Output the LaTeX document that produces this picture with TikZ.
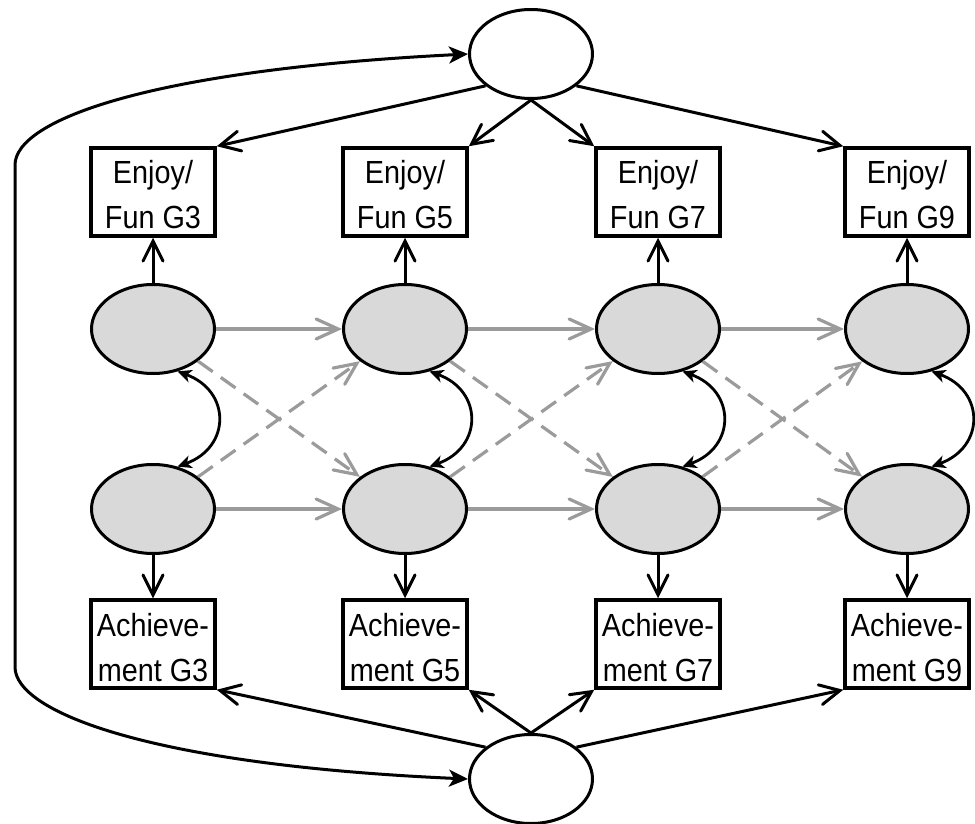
\documentclass[tikz,border=0pt]{standalone}
\usepackage{fontspec}
\newfontfamily\lab[FakeStretch=0.9]{Liberation Sans}
\usetikzlibrary{arrows.meta,shapes.geometric}
\definecolor{latfill}{RGB}{217,217,217}
\definecolor{pathgray}{RGB}{155,155,155}
\begin{document}
\begin{tikzpicture}[x=1pt,y=-1pt,
  obs/.style={draw, line width=3.5pt, minimum width=124pt, minimum height=88pt,
    inner sep=0pt, align=center, font=\lab\fontsize{32}{45}\selectfont,
    text height=74pt, text depth=0pt},
  lat/.style={ellipse, draw, fill=latfill, line width=3pt, minimum width=123pt,
    minimum height=89pt, inner sep=0pt},
  fac/.style={ellipse, draw, fill=white, line width=3pt, minimum width=123pt,
    minimum height=89pt, inner sep=0pt},
  blk/.style={line width=3pt, -{Straight Barb[length=20pt,width=20pt,line cap=round]}},
  gry/.style={draw=pathgray, line width=3.2pt, -{Straight Barb[length=22pt,width=20pt,line cap=round]}},
  gryd/.style={gry, dash pattern=on 18pt off 10pt},
  cov/.style={line width=2.8pt, {Stealth[length=14pt,width=13pt,inset=4pt]}-{Stealth[length=14pt,width=13pt,inset=4pt]}},
  bigcov/.style={line width=3pt, {Stealth[length=19pt,width=17pt,inset=5pt]}-{Stealth[length=19pt,width=17pt,inset=5pt]}}
]
\useasboundingbox (0,0) rectangle (975,824);

% factors
\node[fac] (top) at (531,54) {};
\node[fac] (bot) at (531,779) {};

% columns
\foreach \g/\x in {3/153,5/405,7/658,9/907}{
  \node[obs] (e\g) at (\x,192) {Enjoy/\\Fun G\g};
  \node[lat] (u\g) at (\x,329) {};
  \node[lat] (l\g) at (\x,509) {};
  \node[obs] (a\g) at (\x,644) {Achieve-\\ment G\g};
  \draw[blk] (u\g) -- (e\g);
  \draw[blk] (l\g) -- (a\g);
  \draw[cov] (u\g.-60) to[out=-20,in=20,distance=57pt] (l\g.60);
}

% autoregressive and cross-lagged paths
\foreach \p/\n in {3/5,5/7,7/9}{
  \draw[gry] (u\p) -- (u\n);
  \draw[gry] (l\p) -- (l\n);
  \draw[gryd] (u\p) -- (l\n);
  \draw[gryd] (l\p) -- (u\n);
}

% factor loadings
\draw[blk] (top.215) -- (e3.north east);
\draw[blk] (top.south) -- (e5.north east);
\draw[blk] (top.south) -- (e7.north west);
\draw[blk] (top.-35) -- (e9.north west);
\draw[blk] (bot.145) -- (a3.south east);
\draw[blk] (bot.north) -- (a5.south east);
\draw[blk] (bot.north) -- (a7.south west);
\draw[blk] (bot.35) -- (a9.south west);

% factor covariance
\coordinate (c1) at (15,165);
\coordinate (c2) at (15,667);
\draw[bigcov] (top.west) .. controls (150,70) and (15,120) .. (c1) -- (c2)
  .. controls (15,712) and (150,765) .. (bot.west);
\end{tikzpicture}
\end{document}
